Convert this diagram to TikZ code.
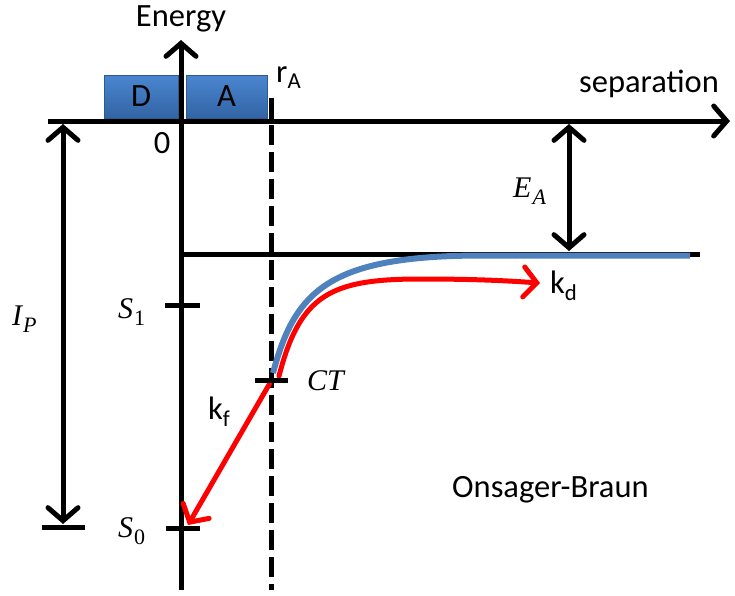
\documentclass[tikz,border=0pt]{standalone}
\usepackage{fontspec}
\setmainfont{Carlito}
\newfontfamily\mserif{Liberation Serif}
\usetikzlibrary{arrows.meta}
\definecolor{curveblue}{HTML}{4F81BD}
\definecolor{boxtop}{HTML}{4A86D0}
\definecolor{boxbot}{HTML}{3264A4}
\definecolor{boxline}{HTML}{2F5A8E}
\newcommand\msub[1]{\kern1pt\raisebox{-7pt}{\fontsize{22}{26}\selectfont #1}}
\begin{document}
\begin{tikzpicture}[x=1pt,y=-1pt,
  lbl/.style={font=\fontsize{32.5}{38}\selectfont, inner sep=0pt, anchor=base},
  mlbl/.style={font=\fontsize{30}{35}\selectfont\mserif\itshape, inner sep=0pt, anchor=base west},
  ax/.style={line width=5pt, black},
  tipend/.style={-{Straight Barb[length=13pt,width=30pt,line cap=round]}},
  tipboth/.style={{Straight Barb[length=13pt,width=30pt,line cap=round]}-{Straight Barb[length=13pt,width=30pt,line cap=round]}},
  dabox/.style={draw=boxline, line width=1pt, top color=boxtop, bottom color=boxbot, minimum height=43pt, inner sep=0pt, font=\fontsize{32.5}{38}\selectfont},
  redline/.style={line width=5pt, red, line cap=round},
  blueline/.style={line width=6pt, curveblue}
]
\useasboundingbox (0,0) rectangle (735,595);
% boxes
\node[dabox, minimum width=74pt] (D) at (141,96.5) {D};
\node[dabox, minimum width=81pt] (A) at (226.5,96.5) {A};
% coordinates
\coordinate (Ebot) at (181,590);
\coordinate (Etop) at (181,40);
\coordinate (Sl) at (48,121);
\coordinate (Sr) at (730,121);
\coordinate (rtop) at (271,98);
\coordinate (raxis) at (271,123);
\coordinate (rbot) at (271,590);
\coordinate (Lleft) at (181,254);
\coordinate (Lright) at (700,254);
\coordinate (EAtop) at (569,124);
\coordinate (EAbot) at (569,251);
\coordinate (IPtop) at (63,124);
\coordinate (IPbot) at (63,524);
\coordinate (IPl) at (42,527);
\coordinate (IPr) at (85,527);
\coordinate (S1l) at (165,305);
\coordinate (S1r) at (200,305);
\coordinate (S0l) at (166,528);
\coordinate (S0r) at (200,528);
\coordinate (CTl) at (255,380);
\coordinate (CTr) at (288,380);
\coordinate (bstart) at (273,373);
\coordinate (bmid) at (480,255.5);
\coordinate (bend) at (690,255.5);
\coordinate (rstart) at (279,376);
\coordinate (rmid) at (420,279);
\coordinate (rend) at (540,283);
\coordinate (fstart) at (270,383);
\coordinate (fend) at (188,525);
% labels
\node[lbl] (energy) at (181,26) {Energy};
\node[lbl] (sep) at (649,92) {separation};
\node[lbl, anchor=base west] (ra) at (276,82) {r\textsubscript{A}};
\node[lbl] (zero) at (162,153) {0};
\node[mlbl] (ea) at (513,197) {E\msub{A}};
\node[mlbl] (ip) at (12,325) {I\msub{P}};
\node[mlbl] (s1) at (118,318) {S\msub{\upshape 1}};
\node[mlbl] (s0) at (118,537) {S\msub{\upshape 0}};
\node[mlbl] (ct) at (307,390) {CT};
\node[lbl, anchor=base west] (kd) at (550,293) {k\textsubscript{d}};
\node[lbl, anchor=base west] (kf) at (208,419) {k\textsubscript{f}};
\node[lbl, anchor=base west] (ob) at (452,497) {Onsager-Braun};
% axes
\draw[ax, tipend] (Ebot) -- (Etop);
\draw[ax, tipend] (Sl) -- (Sr);
\draw[ax] (rtop) -- (raxis);
\draw[ax, dash pattern=on 20pt off 7pt] (271,125) -- (rbot);
\draw[ax] (Lleft) -- (Lright);
\draw[ax, tipboth] (EAtop) -- (EAbot);
\draw[ax, tipboth] (IPtop) -- (IPbot);
\draw[ax] (IPl) -- (IPr);
\draw[ax] (S1l) -- (S1r);
\draw[ax] (S0l) -- (S0r);
% curves
\draw[blueline] (bstart) .. controls (295,290) and (330,256) .. (bmid) -- (bend);
\draw[redline, tipend] (rstart) .. controls (300,295) and (330,279) .. (rmid) .. controls (480,279) and (510,281) .. (rend);
\draw[redline, tipend] (fstart) -- (fend);
\draw[ax] (CTl) -- (CTr);
\end{tikzpicture}
\end{document}
